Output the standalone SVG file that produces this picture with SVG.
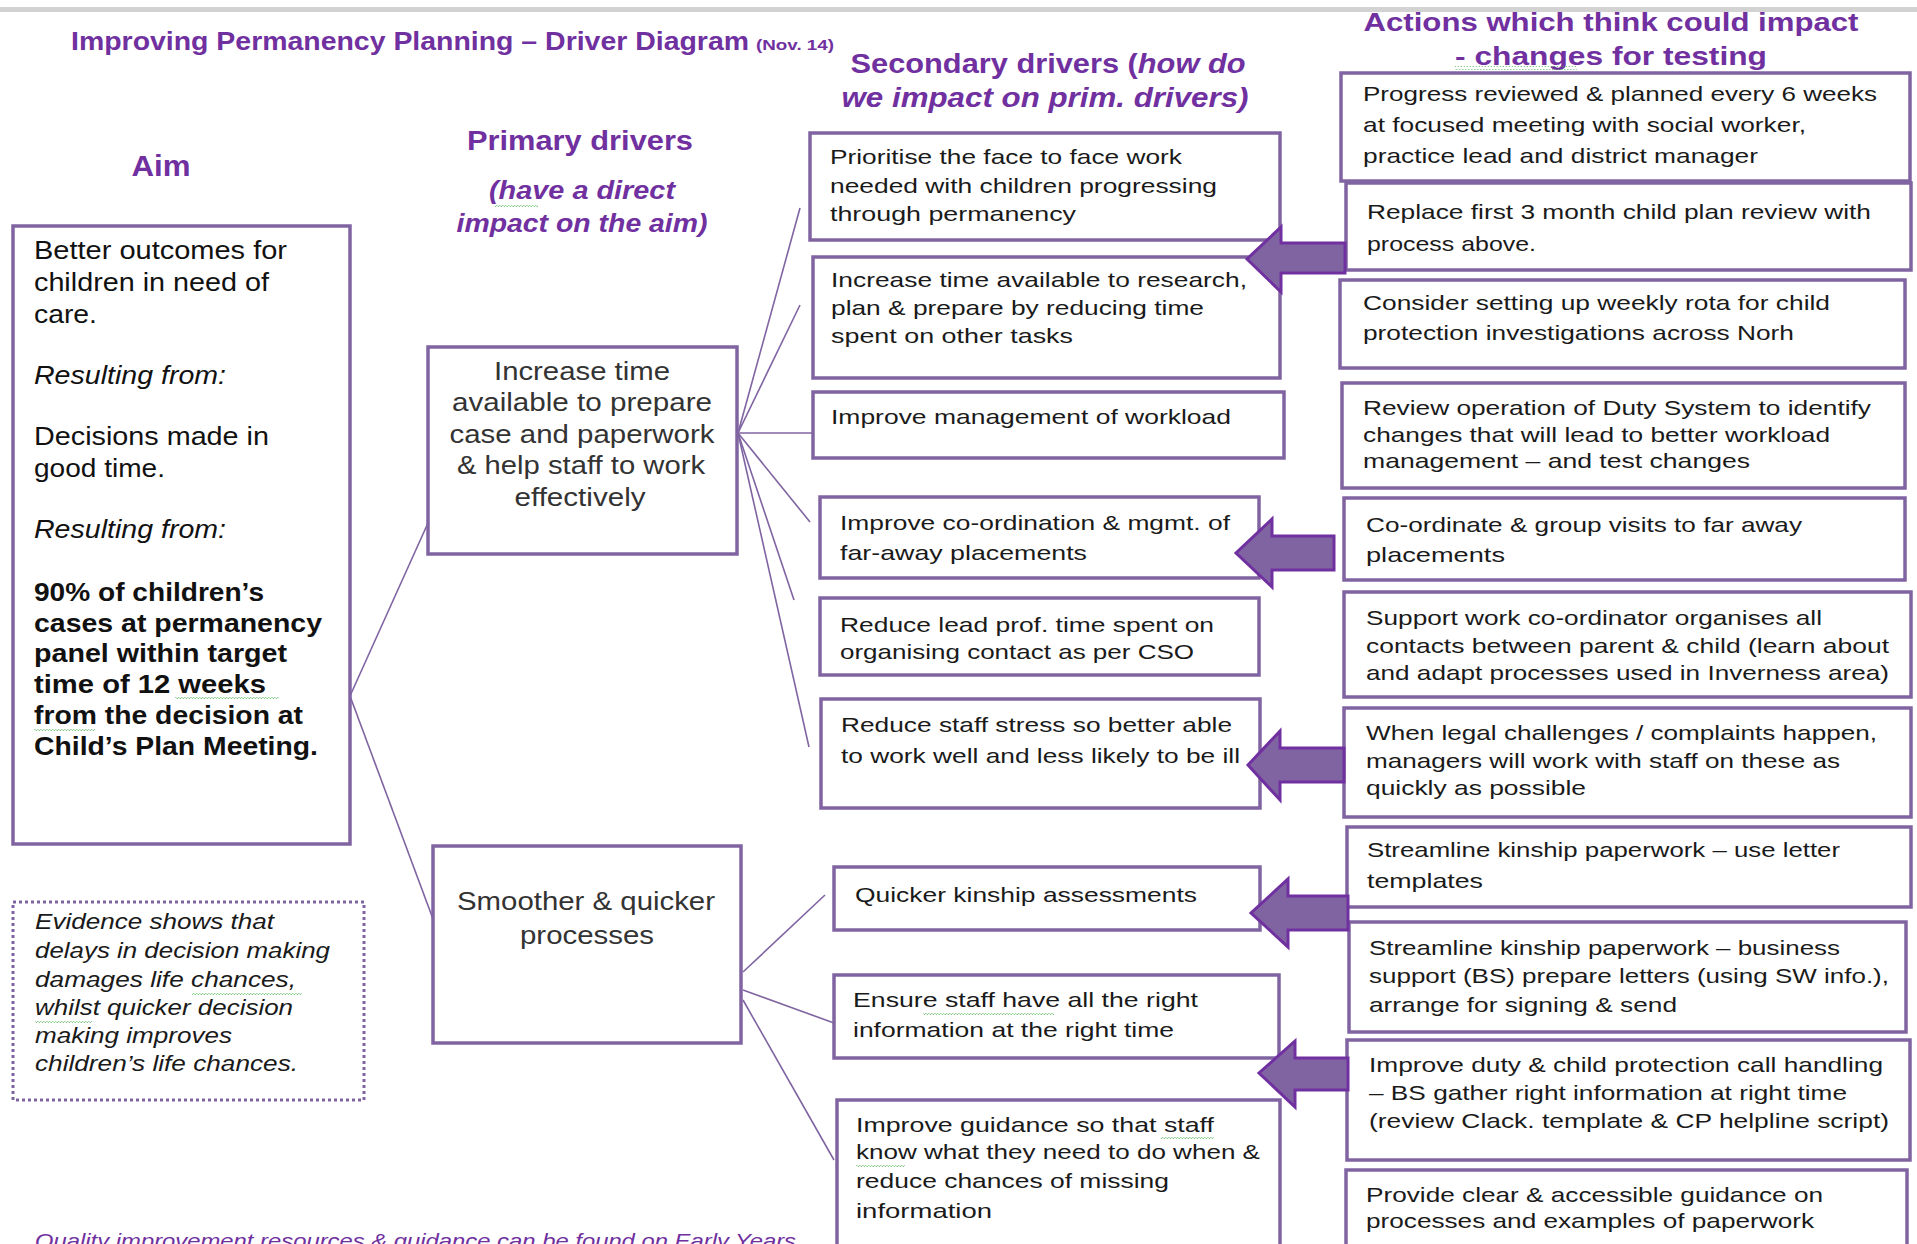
<svg xmlns="http://www.w3.org/2000/svg" width="1917" height="1244" viewBox="0 0 1917 1244">
<defs>
<style>
.box{fill:#fff;stroke:#8064A2;stroke-width:3.5}
.dot{fill:#fff;stroke:#8064A2;stroke-width:3;stroke-dasharray:3 3}
.ln{fill:none;stroke:#8064A2;stroke-width:1.6}
.arr{fill:#8064A2;stroke:#7030A0;stroke-width:3;stroke-linejoin:miter}
.t{font-family:"Liberation Sans",Arial,sans-serif;font-size:21px;fill:#1a1a1a}
.a{font-family:"Liberation Sans",Arial,sans-serif;font-size:26px;fill:#111}
.p{font-family:"Liberation Sans",Arial,sans-serif;font-size:26px;fill:#333}
.ev{font-family:"Liberation Sans",Arial,sans-serif;font-size:22px;font-style:italic;fill:#1a1a1a}
.h{font-family:"Liberation Sans",Arial,sans-serif;font-weight:bold;fill:#7030A0}
.i{font-style:italic}
.b{font-weight:bold}
.sq{fill:url(#wavy)}
</style>
<pattern id="wavy" width="6" height="4" patternUnits="userSpaceOnUse">
<path d="M0 3 L1.5 1 L3 3 L4.5 1 L6 3" fill="none" stroke="#5cb85c" stroke-width="0.9" stroke-dasharray="1.5 1"/>
</pattern>
</defs>
<rect width="1917" height="1244" fill="#fff"/>

<g id="headers">
<text class="h" x="71" y="50" font-size="25" textLength="678" lengthAdjust="spacingAndGlyphs">Improving Permanency Planning – Driver Diagram</text>
<text class="h" x="756" y="50" font-size="14" textLength="78" lengthAdjust="spacingAndGlyphs">(Nov. 14)</text>
<text class="h" x="161" y="176" font-size="30" text-anchor="middle" textLength="59" lengthAdjust="spacingAndGlyphs">Aim</text>
<text class="h" x="580" y="150" font-size="27" text-anchor="middle" textLength="226" lengthAdjust="spacingAndGlyphs">Primary drivers</text>
<text class="h i" x="582" y="199" font-size="25" text-anchor="middle" textLength="186" lengthAdjust="spacingAndGlyphs">(have a direct</text>
<text class="h i" x="582" y="232" font-size="25" text-anchor="middle" textLength="251" lengthAdjust="spacingAndGlyphs">impact on the aim)</text>
<text class="h" x="1048" y="73" font-size="28" text-anchor="middle" textLength="395" lengthAdjust="spacingAndGlyphs">Secondary drivers (<tspan class="i">how do</tspan></text>
<text class="h i" x="1045" y="107" font-size="28" text-anchor="middle" textLength="407" lengthAdjust="spacingAndGlyphs">we impact on prim. drivers)</text>
<text class="h" x="1611" y="31" font-size="26" text-anchor="middle" textLength="495" lengthAdjust="spacingAndGlyphs">Actions which think could impact</text>
<text class="h" x="1611" y="65" font-size="26" text-anchor="middle" textLength="312" lengthAdjust="spacingAndGlyphs">- changes for testing</text>
<rect class="sq" x="1455" y="66" width="122" height="4"/>
<rect class="sq" x="495" y="203" width="43" height="4"/>
</g>
<rect x="0" y="7" width="1917" height="5" fill="#d2d2d2"/>

<g id="connectors">
<line class="ln" x1="350" y1="696" x2="428" y2="523"/>
<line class="ln" x1="350" y1="696" x2="433" y2="919"/>
<line class="ln" x1="738" y1="433" x2="800" y2="208"/>
<line class="ln" x1="738" y1="433" x2="800" y2="305"/>
<line class="ln" x1="738" y1="433" x2="813" y2="433"/>
<line class="ln" x1="738" y1="433" x2="810" y2="522"/>
<line class="ln" x1="738" y1="433" x2="794" y2="600"/>
<line class="ln" x1="738" y1="433" x2="809" y2="747"/>
<line class="ln" x1="743" y1="972" x2="825" y2="895"/>
<line class="ln" x1="743" y1="990" x2="834" y2="1023"/>
<line class="ln" x1="743" y1="1000" x2="834" y2="1160"/>
</g>

<g id="aim">
<rect class="box" x="13" y="226" width="337" height="618"/>
<text class="a" x="34" y="259" textLength="253" lengthAdjust="spacingAndGlyphs">Better outcomes for</text>
<text class="a" x="34" y="291" textLength="235" lengthAdjust="spacingAndGlyphs">children in need of</text>
<text class="a" x="34" y="323" textLength="63" lengthAdjust="spacingAndGlyphs">care.</text>
<text class="a i" x="34" y="384" textLength="192" lengthAdjust="spacingAndGlyphs">Resulting from:</text>
<text class="a" x="34" y="445" textLength="235" lengthAdjust="spacingAndGlyphs">Decisions made in</text>
<text class="a" x="34" y="477" textLength="131" lengthAdjust="spacingAndGlyphs">good time.</text>
<text class="a i" x="34" y="538" textLength="192" lengthAdjust="spacingAndGlyphs">Resulting from:</text>
<text class="a b" x="34" y="601" textLength="230" lengthAdjust="spacingAndGlyphs">90% of children’s</text>
<text class="a b" x="34" y="632" textLength="288" lengthAdjust="spacingAndGlyphs">cases at permanency</text>
<text class="a b" x="34" y="662" textLength="253" lengthAdjust="spacingAndGlyphs">panel within target</text>
<text class="a b" x="34" y="693" textLength="232" lengthAdjust="spacingAndGlyphs">time of 12 weeks</text>
<text class="a b" x="34" y="724" textLength="269" lengthAdjust="spacingAndGlyphs">from the decision at</text>
<text class="a b" x="34" y="755" textLength="284" lengthAdjust="spacingAndGlyphs">Child’s Plan Meeting.</text>
<rect class="sq" x="175" y="697" width="104" height="4"/>
<rect class="sq" x="34" y="728" width="61" height="4"/>
</g>

<g id="evidence">
<rect class="dot" x="13" y="902" width="351" height="198"/>
<text class="ev" x="35" y="929" textLength="239" lengthAdjust="spacingAndGlyphs">Evidence shows that</text>
<text class="ev" x="35" y="958" textLength="295" lengthAdjust="spacingAndGlyphs">delays in decision making</text>
<text class="ev" x="35" y="987" textLength="261" lengthAdjust="spacingAndGlyphs">damages life chances,</text>
<text class="ev" x="35" y="1015" textLength="258" lengthAdjust="spacingAndGlyphs">whilst quicker decision</text>
<text class="ev" x="35" y="1043" textLength="197" lengthAdjust="spacingAndGlyphs">making improves</text>
<text class="ev" x="35" y="1071" textLength="263" lengthAdjust="spacingAndGlyphs">children’s life chances.</text>
<rect class="sq" x="192" y="991" width="110" height="4"/>
<rect class="sq" x="35" y="1019" width="57" height="4"/>
</g>

<g id="primary1">
<rect class="box" x="428" y="347" width="309" height="207"/>
<text class="p" x="582" y="380" text-anchor="middle" textLength="176" lengthAdjust="spacingAndGlyphs">Increase time</text>
<text class="p" x="582" y="411" text-anchor="middle" textLength="260" lengthAdjust="spacingAndGlyphs">available to prepare</text>
<text class="p" x="582" y="443" text-anchor="middle" textLength="265" lengthAdjust="spacingAndGlyphs">case and paperwork</text>
<text class="p" x="581" y="474" text-anchor="middle" textLength="248" lengthAdjust="spacingAndGlyphs">&amp; help staff to work</text>
<text class="p" x="580" y="506" text-anchor="middle" textLength="131" lengthAdjust="spacingAndGlyphs">effectively</text>
</g>

<g id="primary2">
<rect class="box" x="433" y="846" width="308" height="197"/>
<text class="p" x="586" y="910" text-anchor="middle" textLength="258" lengthAdjust="spacingAndGlyphs">Smoother &amp; quicker</text>
<text class="p" x="587" y="944" text-anchor="middle" textLength="134" lengthAdjust="spacingAndGlyphs">processes</text>
</g>

<g id="sec1">
<rect class="box" x="810" y="133" width="470" height="107"/>
<text class="t" x="830" y="164" textLength="352" lengthAdjust="spacingAndGlyphs">Prioritise the face to face work</text>
<text class="t" x="830" y="193" textLength="387" lengthAdjust="spacingAndGlyphs">needed with children progressing</text>
<text class="t" x="830" y="221" textLength="246" lengthAdjust="spacingAndGlyphs">through permanency</text>
</g>
<g id="sec2">
<rect class="box" x="813" y="257" width="467" height="121"/>
<text class="t" x="831" y="287" textLength="416" lengthAdjust="spacingAndGlyphs">Increase time available to research,</text>
<text class="t" x="831" y="315" textLength="373" lengthAdjust="spacingAndGlyphs">plan &amp; prepare by reducing time</text>
<text class="t" x="831" y="343" textLength="242" lengthAdjust="spacingAndGlyphs">spent on other tasks</text>
</g>
<g id="sec3">
<rect class="box" x="813" y="392" width="471" height="66"/>
<text class="t" x="831" y="424" textLength="400" lengthAdjust="spacingAndGlyphs">Improve management of workload</text>
</g>
<g id="sec4">
<rect class="box" x="820" y="497" width="439" height="81"/>
<text class="t" x="840" y="530" textLength="390" lengthAdjust="spacingAndGlyphs">Improve co-ordination &amp; mgmt. of</text>
<text class="t" x="840" y="560" textLength="247" lengthAdjust="spacingAndGlyphs">far-away placements</text>
</g>
<g id="sec5">
<rect class="box" x="820" y="598" width="439" height="77"/>
<text class="t" x="840" y="632" textLength="374" lengthAdjust="spacingAndGlyphs">Reduce lead prof. time spent on</text>
<text class="t" x="840" y="659" textLength="354" lengthAdjust="spacingAndGlyphs">organising contact as per CSO</text>
</g>
<g id="sec6">
<rect class="box" x="821" y="699" width="439" height="109"/>
<text class="t" x="841" y="732" textLength="391" lengthAdjust="spacingAndGlyphs">Reduce staff stress so better able</text>
<text class="t" x="841" y="763" textLength="399" lengthAdjust="spacingAndGlyphs">to work well and less likely to be ill</text>
</g>
<g id="sec7">
<rect class="box" x="834" y="867" width="426" height="63"/>
<text class="t" x="855" y="902" textLength="342" lengthAdjust="spacingAndGlyphs">Quicker kinship assessments</text>
</g>
<g id="sec8">
<rect class="box" x="834" y="975" width="445" height="83"/>
<text class="t" x="853" y="1007" textLength="345" lengthAdjust="spacingAndGlyphs">Ensure staff have all the right</text>
<text class="t" x="853" y="1037" textLength="321" lengthAdjust="spacingAndGlyphs">information at the right time</text>
<rect class="sq" x="923" y="1011" width="131" height="4"/>
</g>
<g id="sec9">
<rect class="box" x="837" y="1100" width="443" height="160"/>
<text class="t" x="856" y="1132" textLength="358" lengthAdjust="spacingAndGlyphs">Improve guidance so that staff</text>
<text class="t" x="856" y="1159" textLength="404" lengthAdjust="spacingAndGlyphs">know what they need to do when &amp;</text>
<text class="t" x="856" y="1188" textLength="313" lengthAdjust="spacingAndGlyphs">reduce chances of missing</text>
<text class="t" x="856" y="1218" textLength="136" lengthAdjust="spacingAndGlyphs">information</text>
<rect class="sq" x="1161" y="1136" width="53" height="4"/>
<rect class="sq" x="856" y="1163" width="49" height="4"/>
</g>

<g id="act1">
<rect class="box" x="1341" y="73" width="569" height="108"/>
<text class="t" x="1363" y="101" textLength="514" lengthAdjust="spacingAndGlyphs">Progress reviewed &amp; planned every 6 weeks</text>
<text class="t" x="1363" y="132" textLength="443" lengthAdjust="spacingAndGlyphs">at focused meeting with social worker,</text>
<text class="t" x="1363" y="163" textLength="395" lengthAdjust="spacingAndGlyphs">practice lead and district manager</text>
</g>
<g id="act2">
<rect class="box" x="1346" y="183" width="565" height="87"/>
<text class="t" x="1367" y="219" textLength="504" lengthAdjust="spacingAndGlyphs">Replace first 3 month child plan review with</text>
<text class="t" x="1367" y="251" textLength="169" lengthAdjust="spacingAndGlyphs">process above.</text>
</g>
<g id="act3">
<rect class="box" x="1340" y="280" width="565" height="88"/>
<text class="t" x="1363" y="310" textLength="467" lengthAdjust="spacingAndGlyphs">Consider setting up weekly rota for child</text>
<text class="t" x="1363" y="340" textLength="431" lengthAdjust="spacingAndGlyphs">protection investigations across Norh</text>
</g>
<g id="act4">
<rect class="box" x="1342" y="383" width="563" height="105"/>
<text class="t" x="1363" y="415" textLength="508" lengthAdjust="spacingAndGlyphs">Review operation of Duty System to identify</text>
<text class="t" x="1363" y="442" textLength="467" lengthAdjust="spacingAndGlyphs">changes that will lead to better workload</text>
<text class="t" x="1363" y="468" textLength="387" lengthAdjust="spacingAndGlyphs">management – and test changes</text>
</g>
<g id="act5">
<rect class="box" x="1344" y="498" width="561" height="82"/>
<text class="t" x="1366" y="532" textLength="436" lengthAdjust="spacingAndGlyphs">Co-ordinate &amp; group visits to far away</text>
<text class="t" x="1366" y="562" textLength="139" lengthAdjust="spacingAndGlyphs">placements</text>
</g>
<g id="act6">
<rect class="box" x="1344" y="592" width="567" height="105"/>
<text class="t" x="1366" y="625" textLength="456" lengthAdjust="spacingAndGlyphs">Support work co-ordinator organises all</text>
<text class="t" x="1366" y="653" textLength="523" lengthAdjust="spacingAndGlyphs">contacts between parent &amp; child (learn about</text>
<text class="t" x="1366" y="680" textLength="523" lengthAdjust="spacingAndGlyphs">and adapt processes used in Inverness area)</text>
</g>
<g id="act7">
<rect class="box" x="1344" y="708" width="567" height="109"/>
<text class="t" x="1366" y="740" textLength="511" lengthAdjust="spacingAndGlyphs">When legal challenges / complaints happen,</text>
<text class="t" x="1366" y="768" textLength="474" lengthAdjust="spacingAndGlyphs">managers will work with staff on these as</text>
<text class="t" x="1366" y="795" textLength="220" lengthAdjust="spacingAndGlyphs">quickly as possible</text>
</g>
<g id="act8">
<rect class="box" x="1347" y="827" width="564" height="80"/>
<text class="t" x="1367" y="857" textLength="473" lengthAdjust="spacingAndGlyphs">Streamline kinship paperwork – use letter</text>
<text class="t" x="1367" y="888" textLength="116" lengthAdjust="spacingAndGlyphs">templates</text>
</g>
<g id="act9">
<rect class="box" x="1349" y="922" width="557" height="110"/>
<text class="t" x="1369" y="955" textLength="471" lengthAdjust="spacingAndGlyphs">Streamline kinship paperwork – business</text>
<text class="t" x="1369" y="983" textLength="520" lengthAdjust="spacingAndGlyphs">support (BS) prepare letters (using SW info.),</text>
<text class="t" x="1369" y="1012" textLength="308" lengthAdjust="spacingAndGlyphs">arrange for signing &amp; send</text>
</g>
<g id="act10">
<rect class="box" x="1347" y="1040" width="563" height="120"/>
<text class="t" x="1369" y="1072" textLength="514" lengthAdjust="spacingAndGlyphs">Improve duty &amp; child protection call handling</text>
<text class="t" x="1369" y="1100" textLength="478" lengthAdjust="spacingAndGlyphs">– BS  gather right information at right time</text>
<text class="t" x="1369" y="1128" textLength="520" lengthAdjust="spacingAndGlyphs">(review Clack. template &amp; CP helpline script)</text>
</g>
<g id="act11">
<rect class="box" x="1346" y="1170" width="561" height="90"/>
<text class="t" x="1366" y="1202" textLength="457" lengthAdjust="spacingAndGlyphs">Provide clear &amp; accessible guidance on</text>
<text class="t" x="1366" y="1228" textLength="448" lengthAdjust="spacingAndGlyphs">processes and examples of paperwork</text>
</g>

<g id="arrows">
<polygon class="arr" points="1345,243 1281,243 1281,227 1247,259 1281,292 1281,273 1345,273"/>
<polygon class="arr" points="1334,536 1272,536 1272,519 1236,553 1272,587 1272,570 1334,570"/>
<polygon class="arr" points="1344,748 1280,748 1280,731 1248,765 1280,800 1280,782 1344,782"/>
<polygon class="arr" points="1348,896 1288,896 1288,879 1251,913 1288,947 1288,930 1348,930"/>
<polygon class="arr" points="1348,1058 1295,1058 1295,1041 1259,1073 1295,1107 1295,1090 1348,1090"/>
</g>

<text class="h i" x="35" y="1248" font-size="21" textLength="761" lengthAdjust="spacingAndGlyphs" style="font-weight:normal">Quality improvement resources &amp; guidance can be found on Early Years</text>
</svg>
